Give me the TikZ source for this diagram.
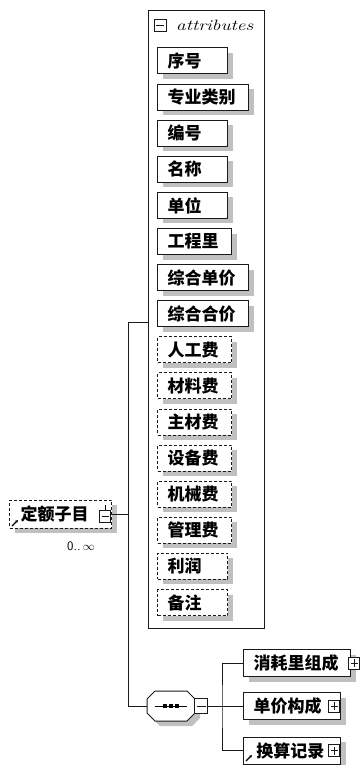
\documentclass[tikz,border=0pt]{standalone}
\usepackage{fontspec}
\newfontfamily\cjk{Noto Sans CJK SC}
\definecolor{xsdShadow}{HTML}{C0C0C0}
\definecolor{xsdLine}{HTML}{1A1A1A}
\usepackage{graphicx}
\usepackage{tikz}
\usetikzlibrary{positioning,arrows.meta,shadows}
\tikzset{
  elem/.style={draw=xsdLine, line width=1pt, fill=white, minimum height=26pt, inner xsep=10pt, inner ysep=0pt,
    font=\cjk\bfseries\fontsize{17}{17}\selectfont, text=black, align=left,
    drop shadow={shadow xshift=5pt, shadow yshift=-5pt, fill=xsdShadow, opacity=1}},
  opt/.style={dash pattern=on 3pt off 2pt},
  togbox/.style={draw=xsdLine, fill=white, line width=0.8pt, minimum width=11pt, minimum height=12pt, inner sep=0pt},
  minusbox/.style={togbox, path picture={\draw[line width=0.8pt] ([xshift=2pt]path picture bounding box.west) -- ([xshift=-2pt]path picture bounding box.east);}},
  plusbox/.style={togbox, path picture={\draw[line width=0.8pt] ([xshift=2pt]path picture bounding box.west) -- ([xshift=-2pt]path picture bounding box.east)
    ([yshift=-2pt]path picture bounding box.north) -- ([yshift=2pt]path picture bounding box.south);}},
  link/.style={draw=xsdLine, line width=1pt},
  refmark/.style={draw=black, line width=1.2pt, -{Stealth[length=3pt,width=3pt]}}
}
% y, name, label, text width, required (1) or optional (0)
\newcommand{\attr}[5]{%
\ifnum#5=1
 \node[elem, anchor=west, text width=#4pt] (#2) at (157,#1) {#3};%
\else
 \node[elem, opt, anchor=west, text width=#4pt] (#2) at (157,#1) {#3};%
\fi}

\begin{document}
\begin{tikzpicture}[x=1pt, y=-1pt]
\path[use as bounding box, fill=white] (0,0) rectangle (361,765);

% attribute group
\node[draw=xsdLine, line width=1pt, minimum width=116pt, minimum height=618pt, anchor=north west, inner sep=0pt] (attrs) at (148,10) {};
\node[minusbox, minimum width=12pt] (attrtog) at (160,25) {};
\node[anchor=west, inner sep=0pt, font=\itshape\fontsize{15}{15}\selectfont] (attrhead) at (176,25) {\scalebox{1.28}[1]{attributes}};

\attr{61}{xuhao}{序号}{50}{1}
\attr{97.1}{zylb}{专业类别}{71}{1}
\attr{133.2}{bianhao}{编号}{50}{1}
\attr{169.3}{mingcheng}{名称}{50}{1}
\attr{205.4}{danwei}{单位}{50}{1}
\attr{241.5}{gcl}{工程里}{54}{1}
\attr{277.6}{zhdj}{综合单价}{71}{1}
\attr{313.7}{zhhj}{综合合价}{71}{1}
\attr{349.8}{rgf}{人工费}{54}{0}
\attr{385.9}{clf}{材料费}{54}{0}
\attr{422}{zcf}{主材费}{54}{0}
\attr{458.1}{sbf}{设备费}{54}{0}
\attr{494.2}{jxf}{机械费}{54}{0}
\attr{530.3}{glf}{管理费}{54}{0}
\attr{566.4}{lirun}{利润}{50}{0}
\attr{602.5}{beizhu}{备注}{50}{0}

% root element
\node[elem, opt, anchor=west, minimum height=28pt, text width=80pt, inner xsep=11pt] (root) at (9,514) {定额子目};
\node[minusbox] (roottog) at (105,516) {};
\draw[line width=0.8pt] (roottog.north) -- ++(0,-5);
\draw[refmark] (12,526) -- (18,520);
\node[font=\sffamily\fontsize{13}{13}\selectfont, inner sep=0pt] (rootocc) at (81,546) {0..\,$\infty$};

% sequence compositor
\fill[xsdShadow, shift={(5,5)}] (155,691) -- (187,691) -- (195,699) -- (195,713) -- (187,721) -- (155,721) -- (147,713) -- (147,699) -- cycle;
\draw[link, fill=white] (155,691) -- (187,691) -- (195,699) -- (195,713) -- (187,721) -- (155,721) -- (147,713) -- (147,699) -- cycle;
\node[minimum width=48pt, minimum height=30pt, inner sep=0pt] (seq) at (171,706) {};
\draw[line width=0.8pt] ([xshift=-16pt]seq.center) -- ([xshift=16pt]seq.center);
\foreach \dx in {-6,0,6}
  \fill ([xshift=\dx pt]seq.center) +(-1.7,-1.7) rectangle +(1.7,1.7);
\node[minusbox, minimum height=15pt, minimum width=13pt] (seqtog) at (201,706) {};

% child elements
\node[elem, anchor=west, minimum height=27pt, text width=87pt] (xhlzc) at (243,663) {消耗里组成};
\node[plusbox] (xhlzctog) at (354,663) {};
\node[elem, anchor=west, minimum height=27pt, text width=77pt] (djgc) at (243,706) {单价构成};
\node[plusbox] (djgctog) at (334,706) {};
\node[elem, anchor=west, minimum height=27pt, text width=77pt] (hsjl) at (243,750.5) {\,换算记录};
\node[plusbox] (hsjltog) at (334,750.5) {};
\draw[refmark] (246,761) -- (252,755);

% connectors
\coordinate (bus) at (128,322);
\coordinate (fork) at (222,706);
\draw[link] (root.east) -- (root.east -| bus);
\draw[link] (attrs.west |- bus) -- (bus) |- (seq.west);
\draw[link] (seqtog.east) -- (djgc.west);
\draw[link] (xhlzc.west) -| (fork) |- (hsjl.west);
\end{tikzpicture}
\end{document}
